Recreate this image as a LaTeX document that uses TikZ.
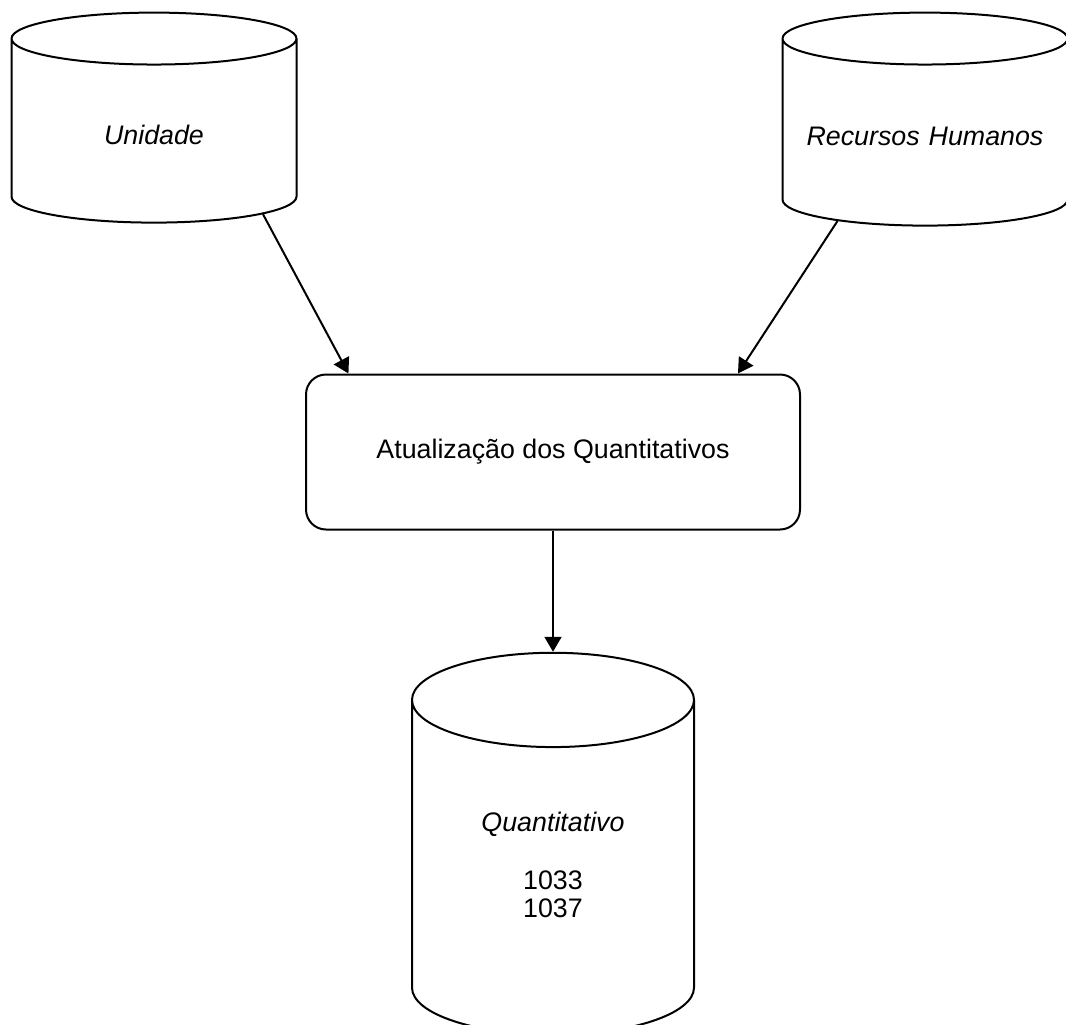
\documentclass[tikz,border=0pt]{standalone}
\usepackage{fontspec}
\setmainfont{Liberation Sans}
\usetikzlibrary{shapes.geometric, arrows.meta}
\tikzset{
	x=0.5pt, y=-0.5pt, % one unit is one pixel of the scan
	base/.style={draw, line width=1pt, font=\fontsize{13.4}{14}\selectfont},
	datastore/.style={base, cylinder, shape border rotate=90, text width=130pt, align=center, font=\fontsize{13.4}{14}\selectfont\itshape}, % sets the properties for each store
	process/.style={base, rectangle, rounded corners=10pt, minimum width=247pt, minimum height=77.5pt},
	flow/.style={line width=1pt, -{Triangle[length=7.5pt,width=8.5pt]}},
}

\begin{document}
\begin{tikzpicture}
	\useasboundingbox (0,0) rectangle (1066,1024);
	\node[datastore, minimum width=142.5pt, minimum height=105pt, aspect=0.19] (unid) at (154,135) {Unidade};
	\node[datastore, minimum width=142.5pt, minimum height=106.5pt, aspect=0.19] (rh) at (925,136.5) {Recursos Humanos};
	\node[process] (atual) at (553,452) {Atualização dos Quantitativos};
	\node[datastore, minimum width=141pt, minimum height=191pt, aspect=0.345] (quant) at (553,875) {Quantitativo\\[15pt]\upshape 1033\\\upshape 1037\rule[-10pt]{0pt}{0pt}};
	\draw[flow] (unid.-36) -- (atual.159);
	\draw[flow] (rh.-136) -- (atual.23);
	\draw[flow] (atual.south) -- (quant.90);
\end{tikzpicture}
\end{document}
